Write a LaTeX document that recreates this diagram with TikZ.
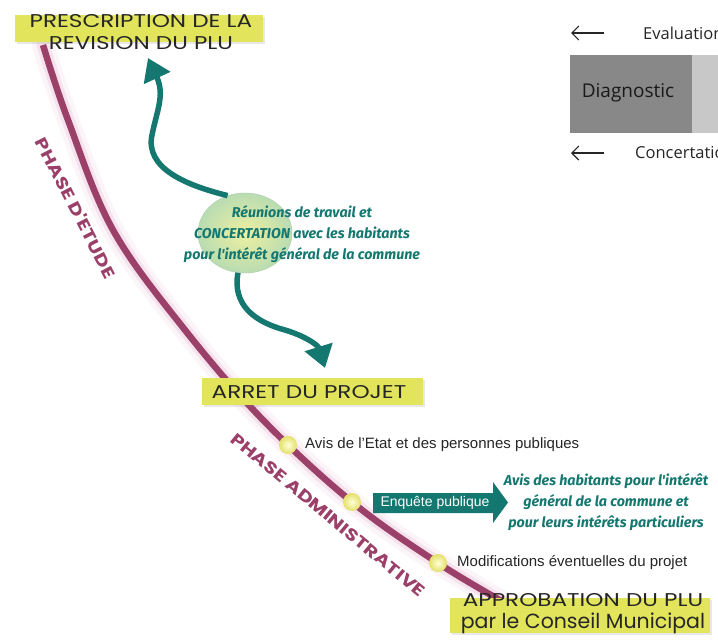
\documentclass[tikz,border=0pt]{standalone}
\usepackage{fontspec}
\setmainfont{Liberation Sans}
\newfontfamily\handfont{Poppins}
\newfontfamily\handwide[FakeStretch=1.25]{Poppins}
\newfontfamily\tealfont{Fira Sans}
\newfontfamily\panelfont{Open Sans}
\usetikzlibrary{shapes.geometric,arrows.meta,shadows}

\definecolor{plum}{RGB}{155,64,105}
\definecolor{glowc}{RGB}{215,120,170}
\definecolor{tealc}{RGB}{20,120,112}
\definecolor{yel}{RGB}{226,229,92}
\definecolor{ellin}{RGB}{238,240,160}
\definecolor{ellout}{RGB}{185,220,178}
\definecolor{dotc}{RGB}{228,224,105}
\definecolor{darkgrey}{RGB}{136,136,136}
\definecolor{lightgrey}{RGB}{200,200,200}

\begin{document}
\begin{tikzpicture}[x=1pt,y=-1pt,
  ybox/.style={fill=yel, draw=none, inner sep=0, drop shadow={opacity=0.18, shadow xshift=2pt, shadow yshift=-2pt}},
  title/.style={font=\handwide\fontsize{18.5}{22}\selectfont, text=black!85, align=center, inner sep=0},
  tealtext/.style={font=\tealfont\bfseries\itshape\fontsize{14.3}{21}\selectfont, text=tealc, align=center, inner sep=0},
  plain/.style={font=\fontsize{15}{17}\selectfont, text=black!85, anchor=west, inner sep=0},
  phase/.style={font=\handwide\bfseries\fontsize{16.5}{18}\selectfont, text=plum, inner sep=0},
  dotnode/.style={circle, minimum size=18pt, inner sep=0, shade, inner color=yellow!15!white, outer color=dotc},
  tealarrow/.style={draw=tealc, line width=5.5pt, -{Triangle[width=28pt,length=22pt]}},
  panel/.style={font=\panelfont\fontsize{16.5}{19}\selectfont, text=black!85, anchor=west, inner sep=0},
  barb/.style={-{Straight Barb[length=7pt,width=14pt]}, line width=1.1pt, black!85},
]
\useasboundingbox (0,0) rectangle (718,641);
\fill[white] (0,0) rectangle (718,641);

% --- top-right panel ---
\fill[darkgrey] (570,55) rectangle (692,133);
\fill[lightgrey] (692,55) rectangle (720,133);
\node[font=\panelfont\fontsize{19}{21}\selectfont, text=black!90, inner sep=0] (diag) at (628,93) {Diagnostic};
\coordinate (ev1) at (604,33);
\coordinate (ev2) at (571,33);
\draw[barb] (ev1) -- (ev2);
\node[panel] (evaltxt) at (643,33) {Evaluation};
\coordinate (co1) at (604,153);
\coordinate (co2) at (571,153);
\draw[barb] (co1) -- (co2);
\node[panel] (conctxt) at (635,153) {Concertation};

% --- main curve with glow ---
\draw[glowc, line width=22pt, opacity=0.08, line cap=round] plot[smooth, tension=0.6] coordinates {(43,45) (68,120) (113,230) (185,330) (263,420) (352,502) (438,563) (505,603)};
\draw[glowc, line width=13pt, opacity=0.14, line cap=round] plot[smooth, tension=0.6] coordinates {(43,45) (68,120) (113,230) (185,330) (263,420) (352,502) (438,563) (505,603)};
\draw[plum, line width=6.5pt] plot[smooth, tension=0.6] coordinates {(43,45) (68,120) (113,230) (185,330) (263,420) (352,502) (438,563) (505,603)};

% --- phase labels ---
\node[phase, rotate=-63] (ph1) at (76,208) {PHASE D'ETUDE};
\node[phase, rotate=-39.5] (ph2) at (328,515) {PHASE ADMINISTRATIVE};

% --- yellow boxes ---
\node[ybox, minimum width=248pt, minimum height=27pt] (presc) at (139,28.5) {};
\node[title] (presctxt) at (141,32) {PRESCRIPTION DE LA\\REVISION DU PLU};

\node[ybox, minimum width=221pt, minimum height=27pt] (arret) at (312.5,391.5) {};
\node[title] (arrettxt) at (309,392) {ARRET DU PROJET};

\node[ybox, minimum width=260pt, minimum height=35pt] (appro) at (580,615.5) {};
\node[title] (approtxt) at (583,614) {APPROBATION DU PLU\\{\handfont\fontsize{20.5}{22}\selectfont par le Conseil Municipal}};

% --- ellipse and teal arrows ---
\node[ellipse, minimum width=94pt, minimum height=80pt, shade, inner color=ellin, outer color=ellout, draw=ellout!85!gray, line width=0.5pt] (ell) at (245,233) {};
\coordinate (upend) at (148,58);
\coordinate (downend) at (325,368);
\draw[tealarrow] (ell.115) .. controls (185,185) and (145,168) .. (152,135) .. controls (157,110) and (165,95) .. (upend);
\draw[tealarrow] (ell.260) .. controls (232,305) and (255,322) .. (285,330) .. controls (305,336) and (318,345) .. (downend);
\node[tealtext] (reun) at (302,234) {Réunions de travail et\\CONCERTATION avec les habitants\\pour l'intérêt général de la commune};

% --- dots and labels ---
\node[dotnode] (d1) at (288,445) {};
\node[dotnode] (d2) at (352,502) {};
\node[dotnode] (d3) at (438,563) {};
\node[plain] (l1) at (305,445) {Avis de l'Etat et des personnes publiques};
\node[plain] (l3) at (457,563) {Modifications éventuelles du projet};

% --- enquete arrow ---
\fill[tealc] (373,493) -- (493,493) -- (493,482) -- (508,502.5) -- (493,523) -- (493,513) -- (373,513) -- cycle;
\node[font=\fontsize{14}{16}\selectfont, text=white, inner sep=0] (enq) at (435,503) {Enquête publique};
\node[tealtext] (avishab) at (606,502) {Avis des habitants pour l'intérêt\\général de la commune et\\pour leurs intérêts particuliers};
\end{tikzpicture}
\end{document}
